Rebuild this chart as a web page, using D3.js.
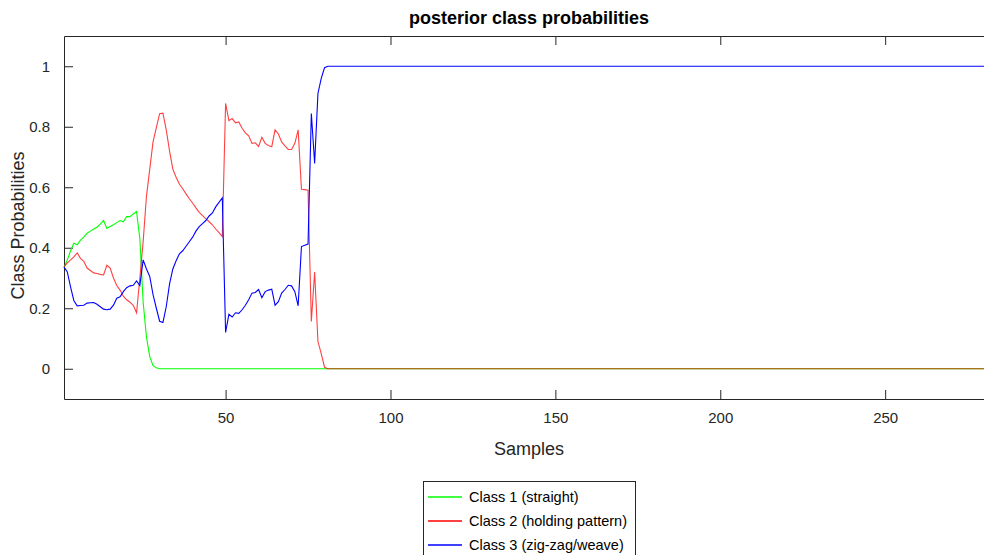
<!DOCTYPE html>
<html>
<head>
<meta charset="utf-8">
<script src="https://cdn.jsdelivr.net/npm/d3@7"></script>
<style>
  body { margin: 0; background: #fff; }
  text { font-family: "Liberation Sans", Arial, sans-serif; fill: #262626; }
</style>
</head>
<body>
<div id="chart"></div>
<script>
(function() {
  var nSamples, class1Head, class2Head, class3Head, class1, class2, class3, tail, seriesNames, seriesColors, yTicks, xTicks,
      width, height, left, right, top, bottom, svg, x, y, line, plot, legend, series;

  // posterior class probabilities, samples 1..81
  class1Head = [0.335, 0.36, 0.39, 0.415, 0.41, 0.425, 0.435, 0.448, 0.455, 0.462,
                0.468, 0.478, 0.49, 0.464, 0.47, 0.476, 0.483, 0.49, 0.486, 0.503,
                0.503, 0.512, 0.52, 0.43, 0.22, 0.105, 0.04, 0.01, 0.003, 0];
  class2Head = [0.337, 0.35, 0.36, 0.37, 0.383, 0.365, 0.355, 0.333, 0.325, 0.317,
                0.315, 0.312, 0.31, 0.342, 0.333, 0.30, 0.275, 0.26, 0.24, 0.228,
                0.22, 0.21, 0.185, 0.30, 0.42, 0.57, 0.66, 0.75, 0.797, 0.843,
                0.845, 0.79, 0.72, 0.66, 0.633, 0.61, 0.595, 0.578, 0.562, 0.548,
                0.532, 0.517, 0.506, 0.496, 0.486, 0.476, 0.462, 0.45, 0.437, 0.877,
                0.82, 0.827, 0.813, 0.816, 0.795, 0.78, 0.77, 0.745, 0.747, 0.735,
                0.765, 0.745, 0.738, 0.734, 0.79, 0.776, 0.75, 0.737, 0.725, 0.725,
                0.745, 0.79, 0.593, 0.592, 0.59, 0.156, 0.32, 0.09, 0.05, 0.005, 0];
  class3Head = [0.336, 0.32, 0.27, 0.225, 0.208, 0.209, 0.21, 0.217, 0.218, 0.219,
                0.213, 0.205, 0.197, 0.195, 0.197, 0.21, 0.233, 0.238, 0.255, 0.268,
                0.274, 0.276, 0.29, 0.275, 0.36, 0.33, 0.305, 0.245, 0.2, 0.157,
                0.153, 0.205, 0.28, 0.33, 0.357, 0.38, 0.39, 0.405, 0.42, 0.435,
                0.455, 0.47, 0.48, 0.49, 0.505, 0.515, 0.535, 0.55, 0.565, 0.12,
                0.18, 0.171, 0.185, 0.183, 0.195, 0.21, 0.228, 0.25, 0.252, 0.262,
                0.235, 0.255, 0.26, 0.263, 0.21, 0.222, 0.25, 0.262, 0.276, 0.274,
                0.255, 0.208, 0.404, 0.408, 0.412, 0.844, 0.679, 0.91, 0.96, 0.995, 1];

  // after sample 81 the three curves sit flat at these values
  nSamples = 283;
  tail = { c1: 0, c2: 0, c3: 1 };

  seriesNames = ["Class 1 (straight)", "Class 2 (holding pattern)", "Class 3 (zig-zag/weave)"];
  seriesColors = ["#00ff00", "#ff0000", "#0000ff"];
  xTicks = [50, 100, 150, 200, 250];
  yTicks = [0, 0.2, 0.4, 0.6, 0.8, 1];

  function pad(head, v) {
    var out = head.slice();
    while (out.length < nSamples) out.push(v);
    return out;
  }
  class1 = pad(class1Head, tail.c1);
  class2 = pad(class2Head, tail.c2);
  class3 = pad(class3Head, tail.c3);

  width = 984;
  height = 555;
  left = 64;
  right = 994;
  top = 36;
  bottom = 399;

  svg = d3.select("#chart").append("svg")
    .attr("width", width)
    .attr("height", height);

  x = d3.scaleLinear().domain([1, nSamples]).range([left, right]);
  y = d3.scaleLinear().domain([-0.1, 1.1]).range([bottom, top]);

  // axes box (MATLAB style, ticks pointing in)
  svg.append("g")
    .attr("transform", "translate(0," + bottom + ")")
    .call(d3.axisBottom(x).tickValues(xTicks).tickSizeInner(-9).tickSizeOuter(0).tickPadding(13))
    .call(function(g) {
      g.selectAll("text").style("font-size", "15px");
    });

  svg.append("g")
    .attr("transform", "translate(0," + top + ")")
    .call(d3.axisTop(x).tickValues(xTicks).tickSizeInner(-9).tickSizeOuter(0).tickFormat(""));

  svg.append("g")
    .attr("transform", "translate(" + left + ",0)")
    .call(d3.axisLeft(y).tickValues(yTicks).tickSizeInner(-9).tickSizeOuter(0).tickPadding(14).tickFormat(d3.format("")))
    .call(function(g) {
      g.selectAll("text").style("font-size", "15px");
    });

  svg.selectAll(".domain, .tick line").attr("stroke", "#262626");

  plot = svg.append("g");

  line = d3.line()
    .x(function(d, i) { return x(i + 1); })
    .y(function(d) { return y(d); });

  series = [class1, class2, class3];
  plot.selectAll("path.series")
    .data(series)
    .enter().append("path")
    .attr("class", "series")
    .attr("fill", "none")
    .attr("stroke", function(d, i) { return seriesColors[i]; })
    .attr("stroke-opacity", function(d, i) { return i === 1 ? 0.75 : 1; })
    .attr("stroke-width", 1.1)
    .attr("d", line);

  // titles
  svg.append("text")
    .attr("x", (left + right) / 2)
    .attr("y", 24)
    .attr("text-anchor", "middle")
    .style("font-size", "18px")
    .style("font-weight", "bold")
    .style("fill", "#000")
    .text("posterior class probabilities");

  svg.append("text")
    .attr("x", (left + right) / 2)
    .attr("y", 455)
    .attr("text-anchor", "middle")
    .style("font-size", "18px")
    .text("Samples");

  svg.append("text")
    .attr("transform", "translate(24," + ((top + bottom) / 2 + 8) + ") rotate(-90)")
    .attr("text-anchor", "middle")
    .style("font-size", "18px")
    .text("Class Probabilities");

  // legend
  legend = svg.append("g");
  legend.append("rect")
    .attr("x", 423.5)
    .attr("y", 481.5)
    .attr("width", 212)
    .attr("height", 90)
    .attr("fill", "#fff")
    .attr("stroke", "#262626");

  seriesNames.forEach(function(name, i) {
    var ly = 497 + i * 24;
    legend.append("path")
      .attr("d", "M428," + ly + "H462")
      .attr("fill", "none")
      .attr("stroke", seriesColors[i])
      .attr("stroke-width", 1.3);
    legend.append("text")
      .attr("x", 469)
      .attr("y", ly + 5)
      .style("font-size", "14.5px")
      .style("fill", "#000")
      .text(name);
  });
}).call(this);
</script>
</body>
</html>
